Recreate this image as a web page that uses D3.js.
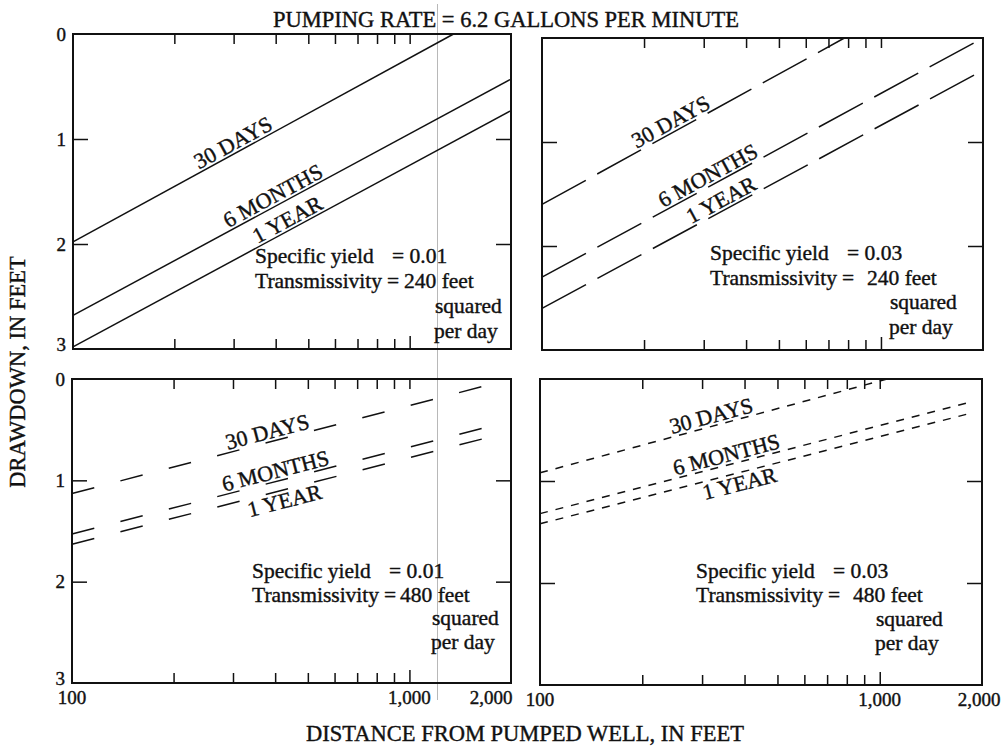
<!DOCTYPE html>
<html>
<head>
<meta charset="utf-8">
<title>Drawdown vs distance</title>
<script src="https://d3js.org/d3.v7.min.js"></script>
<style>
  body { margin: 0; background: #fff; }
  svg { display: block; }
  text { font-family: "Liberation Serif", "DejaVu Serif", serif; fill: #111; stroke: #111; stroke-width: 0.4px; }
  .frame { fill: none; stroke: #111; stroke-width: 2px; }
  .tick line { stroke: #111; stroke-width: 1.5px; }
  .curve { fill: none; stroke: #111; stroke-width: 1.5px; }
</style>
</head>
<body>
<svg id="chart" width="1004" height="747"></svg>
<script>
// ---- data ----
var title = "PUMPING RATE = 6.2 GALLONS PER MINUTE";
var xTitle = "DISTANCE FROM PUMPED WELL, IN FEET";
var yTitle = "DRAWDOWN, IN FEET";

var xTickValues = [100, 1000, 2000];
var xTickLabels = ["100", "1,000", "2,000"];
var minorTicks = [200, 300, 400, 500, 600, 700, 800, 900, 1000];
var yTickValues = [0, 1, 2, 3];

var seriesNames = ["30 DAYS", "6 MONTHS", "1 YEAR"];

// each curve: two [distance, drawdown] points (straight on semilog paper)
var linesTL = [[[100, 1.98], [1350, 0]], [[100, 2.68], [2000, 0.43]], [[100, 2.98], [2000, 0.73]]];
var linesTR = [[[100, 1.60], [780, 0]], [[100, 2.30], [2000, 0.0]], [[100, 2.60], [2000, 0.31]]];
var linesBL = [[[100, 1.13], [1710, 0.06]], [[100, 1.53], [1720, 0.47]], [[100, 1.63], [1720, 0.575]]];
var linesBR = [[[100, 0.92], [1050, 0]], [[100, 1.32], [1880, 0.22]], [[100, 1.42], [1880, 0.33]]];

// distance at which each curve label sits
var labelAtTL = [309, 406, 448];
var labelAtTR = [248, 319, 349];
var labelAtBL = [386, 408, 419];
var labelAtBR = [325, 360, 380];

var specificYield = ["0.01", "0.03", "0.01", "0.03"];
var transmissivity = ["240", "240", "480", "480"];

// ---- layout ----
var svg = d3.select("#chart");

var panels = [
  { x0: 73, x1: 511, y0: 34, y1: 349, lines: linesTL, labelAt: labelAtTL, dash: null,
    below: [false, false, false], ann: { x: 255, y: 263, gap: 25, vx: 149 }, yLabels: true, xLabels: false },
  { x0: 542, x1: 983, y0: 38, y1: 350, lines: linesTR, labelAt: labelAtTR, dash: "50,13",
    below: [false, false, false], ann: { x: 710, y: 260, gap: 24.5, vx: 157 }, yLabels: false, xLabels: false },
  { x0: 72, x1: 511, y0: 379, y1: 683, lines: linesBL, labelAt: labelAtBL, dash: "23,27",
    below: [false, false, true], ann: { x: 252, y: 578, gap: 23.5, vx: 148 }, yLabels: true, xLabels: true, lastDx: -20 },
  { x0: 540, x1: 982, y0: 379, y1: 685, lines: linesBR, labelAt: labelAtBR, dash: "8,8",
    below: [false, false, true], ann: { x: 696, y: 578, gap: 24, vx: 157 }, yLabels: false, xLabels: true, lastDx: -3 }
];

// scanner artefact line through the sheet
svg.append("line")
  .attr("x1", 437.5).attr("x2", 437.5).attr("y1", 4).attr("y2", 700)
  .style("stroke", "#999").style("stroke-width", 0.7);

panels.forEach(function(p, pi) {
  var x = d3.scaleLog().domain([100, 2000]).range([p.x0, p.x1]);
  var y = d3.scaleLinear().domain([0, 3]).range([p.y0, p.y1]);
  var g = svg.append("g");

  // minor ticks top / bottom, pointing inward
  g.append("g").attr("transform", "translate(0," + p.y0 + ")")
    .call(d3.axisTop(x).tickValues(minorTicks).tickSizeInner(-10).tickSizeOuter(0).tickFormat(""))
    .call(function(a) { a.select(".domain").remove(); });
  g.append("g").attr("transform", "translate(0," + p.y1 + ")")
    .call(d3.axisBottom(x).tickValues(minorTicks).tickSizeInner(-10).tickSizeOuter(0).tickFormat(""))
    .call(function(a) {
      a.select(".domain").remove();
      a.selectAll(".tick line").filter(function(d) { return d === 1000; }).attr("y2", -13);
    });
  // y ticks left / right
  g.append("g").attr("transform", "translate(" + p.x0 + ",0)")
    .call(d3.axisLeft(y).tickValues([1, 2]).tickSizeInner(-15).tickSizeOuter(0).tickFormat(""))
    .call(function(a) { a.select(".domain").remove(); });
  g.append("g").attr("transform", "translate(" + p.x1 + ",0)")
    .call(d3.axisRight(y).tickValues([1, 2]).tickSizeInner(-15).tickSizeOuter(0).tickFormat(""))
    .call(function(a) { a.select(".domain").remove(); });

  // curves
  var line = d3.line().x(function(d) { return x(d[0]); }).y(function(d) { return y(d[1]); });
  g.selectAll("path.curve").data(p.lines).enter().append("path")
    .attr("class", "curve")
    .attr("d", line)
    .style("stroke-dasharray", p.dash);

  // curve labels sitting on / under their line
  p.lines.forEach(function(l, i) {
    var along = d3.scaleLog().domain([l[0][0], l[1][0]]).range([l[0][1], l[1][1]]);
    var lx = p.labelAt[i];
    var px = x(lx), py = y(along(lx));
    var ang = Math.atan2(y(l[1][1]) - y(l[0][1]), x(l[1][0]) - x(l[0][0])) * 180 / Math.PI;
    g.append("text")
      .attr("transform", "translate(" + px + "," + py + ") rotate(" + ang + ")")
      .attr("text-anchor", "middle")
      .attr("dy", p.below[i] ? 18 : -3)
      .style("font-size", "22px")
      .text(seriesNames[i]);
  });

  // frame
  g.append("rect").attr("class", "frame")
    .attr("x", p.x0).attr("y", p.y0)
    .attr("width", p.x1 - p.x0).attr("height", p.y1 - p.y0);

  // parameters block
  var a = p.ann;
  var t = g.append("g").style("font-size", "21.5px");
  t.append("text").attr("x", a.x).attr("y", a.y).text("Specific yield");
  t.append("text").attr("x", a.x + 137).attr("y", a.y).text("= " + specificYield[pi]);
  t.append("text").attr("x", a.x).attr("y", a.y + a.gap).text("Transmissivity");
  t.append("text").attr("x", a.x + 132).attr("y", a.y + a.gap).text("=");
  t.append("text").attr("x", a.x + a.vx).attr("y", a.y + a.gap).text(transmissivity[pi] + " feet");
  t.append("text").attr("x", a.x + 180).attr("y", a.y + 2 * a.gap).text("squared");
  t.append("text").attr("x", a.x + 179).attr("y", a.y + 3 * a.gap).text("per day");

  // y tick labels
  if (p.yLabels) {
    g.selectAll("text.ylab").data(yTickValues).enter().append("text")
      .attr("class", "ylab")
      .attr("x", p.x0 - 7)
      .attr("y", function(d) { return y(d) + (d === 3 ? -5 : 0); })
      .attr("text-anchor", "end")
      .attr("dy", "0.35em")
      .style("font-size", "19px")
      .text(function(d) { return d; });
  }
  // x tick labels
  if (p.xLabels) {
    g.selectAll("text.xlab").data(xTickValues).enter().append("text")
      .attr("class", "xlab")
      .attr("x", function(d, i) { return x(d) + (i === 2 ? p.lastDx : 0); })
      .attr("y", p.y1 + 21)
      .attr("text-anchor", "middle")
      .style("font-size", "19px")
      .text(function(d, i) { return xTickLabels[i]; });
  }
});

// titles
svg.append("text").attr("x", 506).attr("y", 27).attr("text-anchor", "middle")
  .style("font-size", "22.5px").text(title);
svg.append("text").attr("x", 525).attr("y", 741).attr("text-anchor", "middle")
  .style("font-size", "22.5px").text(xTitle);
svg.append("text").attr("transform", "translate(25,372) rotate(-90)").attr("text-anchor", "middle")
  .style("font-size", "22.5px").text(yTitle);
</script>
</body>
</html>
